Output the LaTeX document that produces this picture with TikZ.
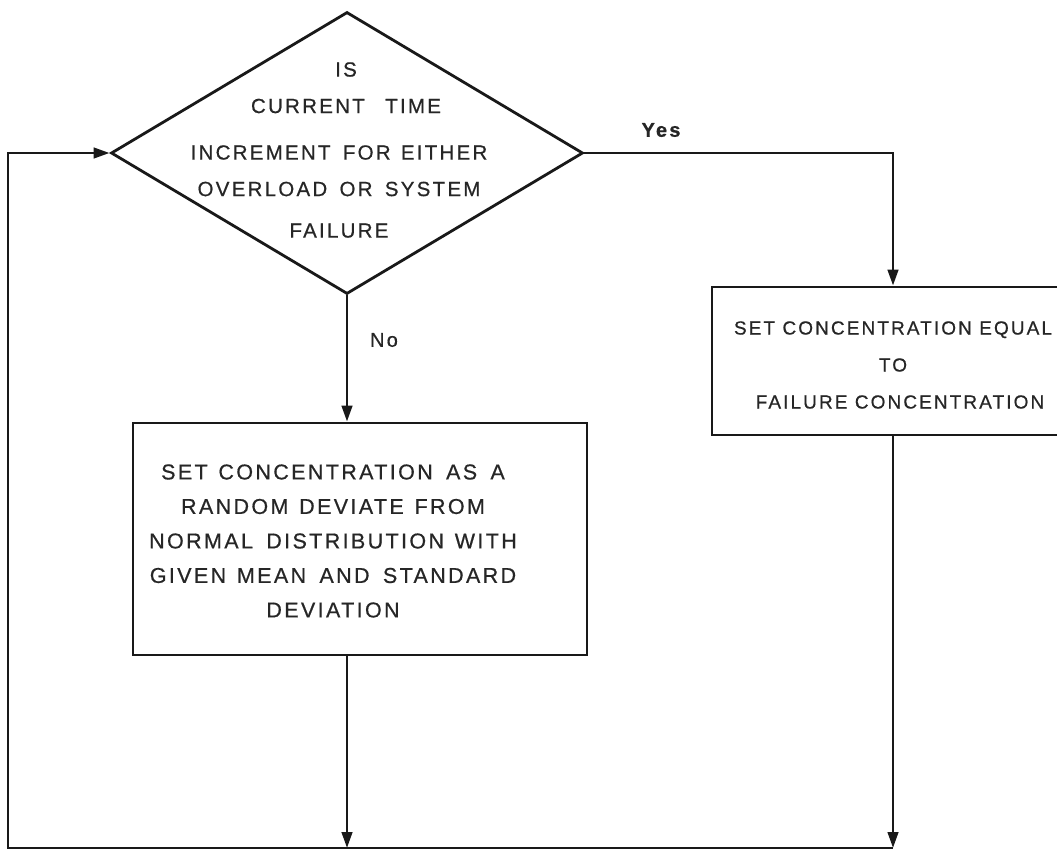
\documentclass[tikz,border=0pt]{standalone}
\usepackage{fontspec}
\setmainfont{Liberation Sans}[LetterSpace=11,FakeBold=0.6]
\usetikzlibrary{shapes.geometric,arrows.meta}
% wider gaps between words, as in stencil lettering
\newcommand\wordgap[1]{\spaceskip=#1\relax}
\begin{document}
\begin{tikzpicture}[x=1pt,y=-1pt,
  flow/.style={draw=black!90, line width=2.8pt},
  arr/.style={-{Triangle[length=16pt,width=10.5pt]}},
  decision/.style={diamond, draw=black!90, line width=2.8pt, inner sep=0pt,
    minimum width=472pt, minimum height=282pt},
  procbox/.style={rectangle, draw=black!90, line width=2.8pt, inner sep=0pt},
  txt/.style={text=black!85, align=center, inner sep=0pt},
  lbl/.style={text=black!85, inner sep=0pt, font=\fontsize{20}{22}\selectfont}]

\useasboundingbox (0,0) rectangle (1057,852);
\clip (0,0) rectangle (1057,852);

% decision
\node[decision] (dec) at (347,153) {};
\node[txt, font=\fontsize{20.5}{36.5}\selectfont\wordgap{0.6em}] (dectext) at (339,150)
  {\hspace*{14pt}IS\\\hspace*{14pt}CURRENT\quad TIME\\[10pt]INCREMENT FOR\enspace EITHER\\OVERLOAD OR SYSTEM\\[5pt]FAILURE};

% "No" branch box
\node[procbox, minimum width=454pt, minimum height=232pt] (rand) at (360,539) {};
\node[txt, font=\fontsize{21.5}{34.5}\selectfont\wordgap{0.62em}] (randtext) at (333,541)
  {SET\enspace CONCENTRATION AS A\\RANDOM\enspace DEVIATE\enspace FROM\\NORMAL DISTRIBUTION\enspace WITH\\GIVEN\enspace MEAN AND STANDARD\\DEVIATION};

% "Yes" branch box
\node[procbox, minimum width=350pt, minimum height=148pt] (fail) at (887,361) {};
\node[txt, font=\fontsize{19}{37}\selectfont] (failtext) at (893,365)
  {SET CONCENTRATION EQUAL\\TO\\\hspace*{14pt}FAILURE CONCENTRATION};

% branch labels
\node[lbl, font=\fontsize{20}{22}\bfseries] (yes) at (661,130) {Yes};
\node[lbl] (no) at (384,340) {No};

% routing points
\coordinate (yesturn) at (893,153);
\coordinate (mergeL) at (347,848);
\coordinate (mergeR) at (893,848);
\coordinate (loopBL) at (8,848);
\coordinate (loopTL) at (8,153);

% connectors
\draw[flow,arr] (dec.east) -- (yesturn) -- (yesturn |- fail.north);
\draw[flow,arr] (dec.south) -- (dec.south |- rand.north);
\draw[flow,arr] (rand.south -| mergeL) -- (mergeL);
\draw[flow,arr] (fail.south -| mergeR) -- (mergeR);
\draw[flow,arr] (mergeR) -- (loopBL) -- (loopTL) -- (dec.west);
\end{tikzpicture}
\end{document}
